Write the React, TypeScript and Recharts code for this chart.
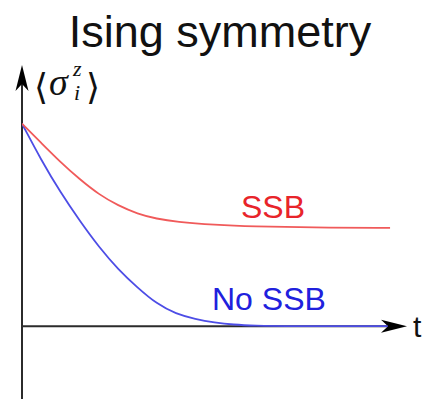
import { LineChart, Line, XAxis, YAxis, ReferenceLine } from 'recharts';

// time (arbitrary units) and <sigma_i^z>
const ssbTime = [0, 0.5, 1, 1.5, 2, 2.5, 3, 3.5, 4, 5, 6, 7.5, 9.56];
const ssbValue = [1, 0.905, 0.81, 0.725, 0.65, 0.595, 0.555, 0.53, 0.515, 0.5, 0.492, 0.487, 0.485];

const noSsbTime = [0, 0.5, 1, 1.5, 2, 2.5, 3, 3.5, 4, 4.5, 5, 5.5, 6, 7, 9.5];
const noSsbValue = [1, 0.82, 0.66, 0.52, 0.39, 0.28, 0.19, 0.11, 0.06, 0.035, 0.018, 0.007, 0.002, 0, 0];

const ssbData = ssbTime.map((t, i) => ({ t, v: ssbValue[i] }));
const noSsbData = noSsbTime.map((t, i) => ({ t, v: noSsbValue[i] }));

const AXIS = '#2b2b2b';

const arrowPath = (tx: number, ty: number, dx: number, dy: number) => {
  // stealth arrow head pointing along (dx, dy), tip at (tx, ty)
  const len = 26;
  const half = 6.5;
  const notch = 19;
  const px = -dy;
  const py = dx;
  const bx = tx - dx * len;
  const by = ty - dy * len;
  const nx = tx - dx * notch;
  const ny = ty - dy * notch;
  return `M${tx},${ty} L${bx + px * half},${by + py * half} L${nx},${ny} L${bx - px * half},${by - py * half} Z`;
};

const VerticalArrow = (props: any) => {
  const x = props.x1;
  const top = Math.min(props.y1, props.y2);
  const bottom = Math.max(props.y1, props.y2);
  return (
    <g>
      <line x1={x} y1={top + 10} x2={x} y2={bottom} stroke={AXIS} strokeWidth={2} />
      <path d={arrowPath(x, top, 0, -1)} fill="#000" />
    </g>
  );
};

const HorizontalArrow = (props: any) => {
  const y = props.y1;
  const left = Math.min(props.x1, props.x2);
  const right = Math.max(props.x1, props.x2);
  return (
    <g>
      <line x1={left} y1={y} x2={right - 10} y2={y} stroke={AXIS} strokeWidth={2} />
      <path d={arrowPath(right, y, 1, 0)} fill="#000" />
    </g>
  );
};

const App = () => {
  return (
    <div style={{ position: 'absolute', left: 0, top: 0, width: 426, height: 399, background: '#fff' }}>
      <LineChart width={426} height={399} margin={{ top: 65, right: 19, left: 22, bottom: 0 }}>
        <XAxis type="number" dataKey="t" domain={[0, 10]} hide allowDataOverflow />
        <YAxis type="number" dataKey="v" domain={[-0.36, 1.29]} hide allowDataOverflow />
        <ReferenceLine x={0} ifOverflow="visible" shape={VerticalArrow} />
        <ReferenceLine y={0} ifOverflow="visible" shape={HorizontalArrow} />
        <Line data={noSsbData} dataKey="v" type="basis" stroke="#4d4de6" strokeWidth={1.8} dot={false} isAnimationActive={false} />
        <Line data={ssbData} dataKey="v" type="basis" stroke="#f05a5a" strokeWidth={1.8} dot={false} isAnimationActive={false} />
        <text x={220} y={47} textAnchor="middle" fontFamily="Liberation Sans, Arial, sans-serif" fontSize={45} fill="#111">
          Ising symmetry
        </text>
        <text x={241} y={218} fontFamily="Liberation Sans, Arial, sans-serif" fontSize={32} fill="#e8242a">
          SSB
        </text>
        <text x={212} y={310} fontFamily="Liberation Sans, Arial, sans-serif" fontSize={32} fill="#2020dd">
          No SSB
        </text>
        <text x={413} y={337} fontFamily="Liberation Sans, Arial, sans-serif" fontSize={30} fill="#111">
          t
        </text>
        <text fontFamily="DejaVu Serif, Liberation Serif, serif" fill="#111">
          <tspan x={34} y={99} fontSize={36} fontWeight={300}>⟨</tspan>
          <tspan x={49} y={95} fontSize={38} fontStyle="italic" fontFamily="Liberation Serif, serif">σ</tspan>
          <tspan x={73} y={76} fontSize={22} fontStyle="italic" fontFamily="Liberation Serif, serif">z</tspan>
          <tspan x={74} y={100} fontSize={22} fontStyle="italic" fontFamily="Liberation Serif, serif">i</tspan>
          <tspan x={86} y={99} fontSize={36} fontWeight={300}>⟩</tspan>
        </text>
      </LineChart>
    </div>
  );
};

export default App;
